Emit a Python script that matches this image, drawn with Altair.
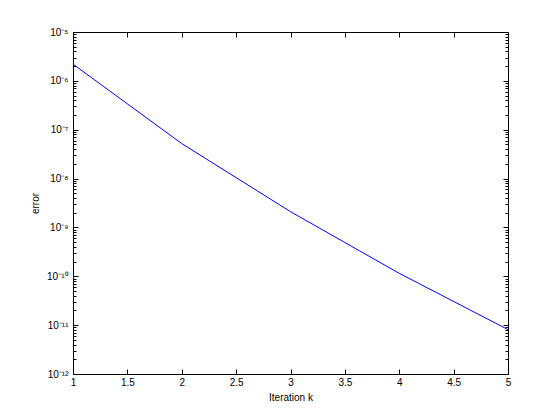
import altair as alt
import pandas as pd

# data
iters = [1, 2, 3, 4, 5]
errors = [2.2e-6, 5.2e-8, 2.1e-9, 1.15e-10, 8.1e-12]

x_ticks = [1, 1.5, 2, 2.5, 3, 3.5, 4, 4.5, 5]
y_major = [1e-12, 1e-11, 1e-10, 1e-9, 1e-8, 1e-7, 1e-6, 1e-5]
y_minor = [k * 10.0 ** d for d in range(-12, -5) for k in range(2, 10)]

df = pd.DataFrame({"k": iters, "err": errors})

FONT = "Liberation Sans"
MAJ = 5
MIN = 3

xs = alt.Scale(domain=[1, 5], nice=False, zero=False)
ys = alt.Scale(type="log", domain=[1e-12, 1e-5], nice=False)

sup_expr = (
    "(round(-log(datum.value)/LN10) < 10 ? "
    "'10\u207b' + substring('\u2070\u00b9\u00b2\u00b3\u2074\u2075\u2076\u2077\u2078\u2079', round(-log(datum.value)/LN10), round(-log(datum.value)/LN10)+1) : "
    "'10\u207b\u00b9' + substring('\u2070\u00b9\u00b2\u00b3\u2074\u2075\u2076\u2077\u2078\u2079', round(-log(datum.value)/LN10)-10, round(-log(datum.value)/LN10)-9))"
)

common = dict(domain=False, grid=False, tickColor="black", tickWidth=1,
              labelFont=FONT, labelFontSize=10, labelColor="black",
              titleFont=FONT, titleFontSize=10, titleColor="black",
              titleFontWeight="normal")

x_bottom = alt.Axis(orient="bottom", values=x_ticks, tickSize=MAJ, offset=-MAJ,
                    labelPadding=3, format="~g", title="Iteration k",
                    titlePadding=5, labelFlush=False, **common)
x_top = alt.Axis(orient="top", values=x_ticks, tickSize=MAJ, offset=-MAJ,
                 labels=False, title=None, **common)

y_left = alt.Axis(orient="left", values=y_major, tickSize=MAJ, offset=-MAJ,
                  labelPadding=5, labelExpr=sup_expr, title="error",
                  titlePadding=6, labelFlush=False, **common)
y_right = alt.Axis(orient="right", values=y_major, tickSize=MAJ, offset=-MAJ,
                   labels=False, title=None, **common)
y_left_min = alt.Axis(orient="left", values=y_minor, tickSize=MIN, offset=-MIN,
                      labels=False, title=None, **common)
y_right_min = alt.Axis(orient="right", values=y_minor, tickSize=MIN, offset=-MIN,
                       labels=False, title=None, **common)

base = alt.Chart(df)

main = base.mark_line(color="#0000ff", strokeWidth=1, clip=True).encode(
    x=alt.X("k:Q", scale=xs, axis=x_bottom),
    y=alt.Y("err:Q", scale=ys, axis=y_left),
)
frame2 = base.mark_line(opacity=0).encode(
    x=alt.X("k:Q", scale=xs, axis=x_top),
    y=alt.Y("err:Q", scale=ys, axis=y_right),
)
frame3 = base.mark_line(opacity=0).encode(
    x=alt.X("k:Q", scale=xs, axis=None),
    y=alt.Y("err:Q", scale=ys, axis=y_left_min),
)
frame4 = base.mark_line(opacity=0).encode(
    x=alt.X("k:Q", scale=xs, axis=None),
    y=alt.Y("err:Q", scale=ys, axis=y_right_min),
)

chart = alt.layer(main, frame2, frame3, frame4).resolve_axis(
    x="independent", y="independent"
).properties(
    width=435, height=342,
    autosize=alt.AutoSizeParams(type="none"),
    padding={"left": 65, "top": 24, "right": 44, "bottom": 38},
    background="white",
).configure_view(stroke="black", strokeWidth=1)

chart.save("out.html", embed_options={"renderer": "svg", "actions": False})
